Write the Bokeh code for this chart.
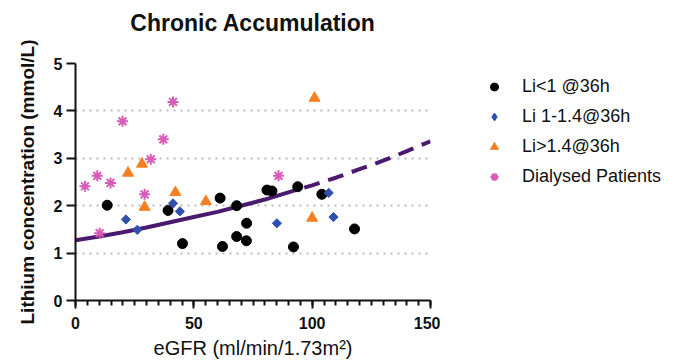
import math
from bokeh.plotting import figure
from bokeh.layouts import row
from bokeh.models import (Legend, LegendItem, FixedTicker, SingleIntervalTicker, Range1d, Title)
from bokeh.embed import file_html
from bokeh.resources import INLINE

# ---- data ----
low_x = [13.4, 39.1, 45.2, 61.1, 62.1, 68.1, 68.1, 72.3, 72.2, 80.9, 83.0, 92.1, 93.9, 104.1, 117.9]
low_y = [2.01, 1.90, 1.20, 2.16, 1.14, 2.00, 1.35, 1.63, 1.26, 2.33, 2.31, 1.13, 2.40, 2.24, 1.51]

mid_x = [21.3, 26.1, 41.2, 44.1, 85.1, 107.0, 109.0]
mid_y = [1.71, 1.49, 2.05, 1.88, 1.63, 2.27, 1.76]

high_x = [22.2, 28.1, 29.2, 42.2, 55.1, 101.0, 100.0]
high_y = [2.69, 2.88, 1.97, 2.28, 2.09, 4.27, 1.74]

dial_x = [4.0, 9.2, 14.8, 10.2, 19.9, 29.2, 31.8, 37.1, 41.2, 85.8]
dial_y = [2.41, 2.63, 2.48, 1.42, 3.78, 2.24, 2.98, 3.40, 4.19, 2.63]

fit_solid_x = [0, 10, 20, 30, 40, 50, 60, 70, 80, 93]
fit_solid_y = [1.27, 1.35, 1.44, 1.54, 1.65, 1.76, 1.87, 2.00, 2.13, 2.33]
fit_dash_x = [93, 100, 110, 120, 130, 140, 150]
fit_dash_y = [2.33, 2.43, 2.59, 2.77, 2.95, 3.15, 3.36]

y_ticks = [0, 1, 2, 3, 4, 5]
grid_y = [1, 2, 3, 4]

title_text = "Chronic Accumulation"
labels = ["Li<1 @36h", "Li 1-1.4@36h", "Li>1.4@36h", "Dialysed Patients"]
colors = ["#000000", "#3050B0", "#F57F22", "#D85BB8"]

FONT = "Liberation Sans"

p = figure(width=440, height=362, output_backend="svg", toolbar_location=None,
           x_range=Range1d(0, 150), y_range=Range1d(0, 5),
           min_border_left=75, min_border_right=10, min_border_top=63, min_border_bottom=62,
           title=None)
p.outline_line_color = None
p.background_fill_color = "white"
p.border_fill_color = "white"

# a thin spacer between the frame and the title, then the title itself
spacer = Title(text=" ", text_font_size="2px", standoff=24)
main_title = Title(text=title_text, align="center", text_font=FONT, text_font_size="23px",
                   text_font_style="bold", text_color="#111111", standoff=0)
p.add_layout(spacer, "above")
p.add_layout(main_title, "above")

# axes
for ax in (p.xaxis[0], p.yaxis[0]):
    ax.axis_line_width = 2
    ax.axis_line_color = "#111111"
    ax.major_tick_line_width = 2
    ax.major_tick_line_color = "#111111"
    ax.minor_tick_line_width = 2
    ax.minor_tick_line_color = "#111111"
    ax.major_tick_in = 0
    ax.minor_tick_in = 0
    ax.major_label_text_font = FONT
    ax.major_label_text_font_style = "bold"
    ax.major_label_text_font_size = "16px"
    ax.major_label_text_color = "#111111"
    ax.axis_label_text_font = FONT
    ax.axis_label_text_color = "#111111"

p.xaxis.ticker = SingleIntervalTicker(interval=50, num_minor_ticks=10)
p.xaxis.major_tick_out = 8
p.xaxis.minor_tick_out = 5
p.xaxis.major_label_standoff = 8
p.xaxis.axis_label = "eGFR (ml/min/1.73m²)"
p.xaxis.axis_label_text_font_size = "20px"
p.xaxis.axis_label_text_font_style = "normal"
p.xaxis.axis_label_standoff = 5

p.yaxis.ticker = FixedTicker(ticks=y_ticks, minor_ticks=[])
p.yaxis.major_tick_out = 9
p.yaxis.minor_tick_out = 0
p.yaxis.major_label_standoff = 4
p.yaxis.axis_label = "Lithium concentration (mmol/L)"
p.yaxis.axis_label_text_font_size = "19px"
p.yaxis.axis_label_text_font_style = "bold"
p.yaxis.axis_label_standoff = 13

p.xgrid.visible = False
p.ygrid.ticker = FixedTicker(ticks=grid_y)
p.ygrid.grid_line_color = "#BBBBBB"
p.ygrid.grid_line_width = 2
p.ygrid.grid_line_dash = "2 5"

# fit curve
p.line(fit_solid_x, fit_solid_y, line_color="#4A1A6E", line_width=4)
p.line(fit_dash_x, fit_dash_y, line_color="#4A1A6E", line_width=4,
       line_dash="16 9", line_dash_offset=16)

styles = [dict(marker="circle", size=10, fill_color=colors[0], line_color=colors[0]),
          dict(marker="square", size=6.5, angle=math.pi / 4, fill_color=colors[1], line_color=colors[1]),
          dict(marker="triangle", size=11, fill_color=colors[2], line_color=colors[2]),
          dict(marker="asterisk", size=11, line_color=colors[3], line_width=2)]

p.scatter(low_x, low_y, **styles[0])
p.scatter(mid_x, mid_y, **styles[1])
p.scatter(high_x, high_y, **styles[2])
p.scatter(dial_x, dial_y, **styles[3])

# legend panel (separate canvas to the right of the plot)
q = figure(width=226, height=362, output_backend="svg", toolbar_location=None,
           x_range=Range1d(0, 1), y_range=Range1d(0, 1),
           x_axis_type=None, y_axis_type=None,
           min_border=0, min_border_left=0, min_border_right=0,
           min_border_top=0, min_border_bottom=0)
q.outline_line_color = None
q.grid.visible = False
q.border_fill_color = "white"

# swatch styles (legend swatches do not rotate, so the diamond uses the diamond marker)
legend_styles = [styles[0],
                 dict(marker="diamond", size=11, fill_color=colors[1], line_color=colors[1]),
                 styles[2], styles[3]]
# renderers that only supply the legend swatches (their one point lies outside the view)
legend_renderers = [q.scatter(x=[-5], y=[-5], **s) for s in legend_styles]
legend = Legend(items=[LegendItem(label=lab, renderers=[r])
                       for lab, r in zip(labels, legend_renderers)],
                location=(44, 110), orientation="vertical")
legend.border_line_color = None
legend.background_fill_alpha = 0
legend.padding = 0
legend.margin = 0
legend.spacing = 3
legend.glyph_width = 20
legend.glyph_height = 27
legend.label_height = 27
legend.label_standoff = 18
legend.label_text_font = FONT
legend.label_text_font_size = "18px"
legend.label_text_color = "#111111"
q.add_layout(legend, "center")

layout = row(p, q, spacing=0)
open("out.html", "w").write(file_html(layout, INLINE))
